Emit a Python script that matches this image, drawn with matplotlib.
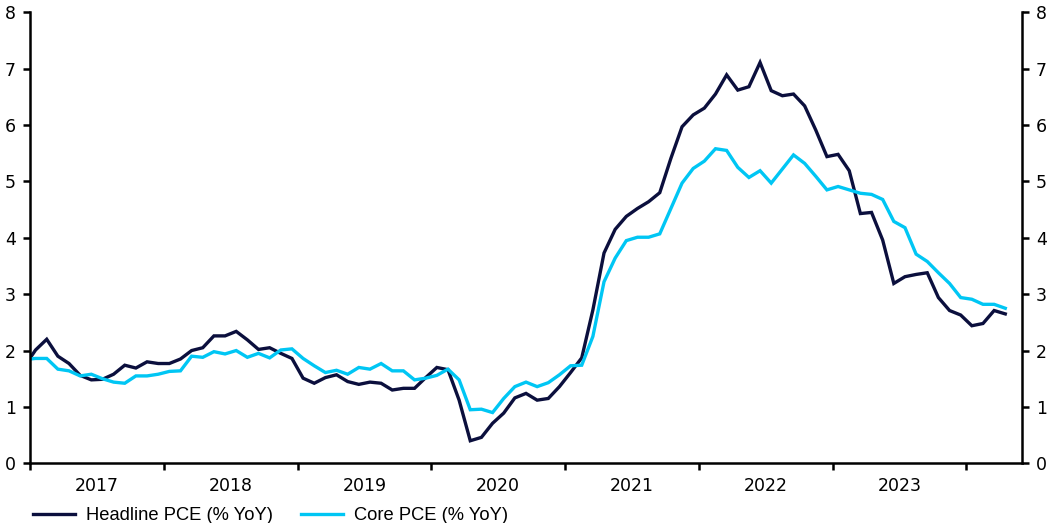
import matplotlib
matplotlib.use("Agg")
import matplotlib.pyplot as plt
import numpy as np

years = ["2017", "2018", "2019", "2020", "2021", "2022", "2023"]
# Monthly values, Dec 2016 .. Apr 2024
headline = [1.72,
    2.01, 2.20, 1.90, 1.77, 1.56, 1.48, 1.49, 1.58, 1.74, 1.69, 1.80, 1.77,
    1.77, 1.85, 2.00, 2.05, 2.26, 2.26, 2.34, 2.19, 2.02, 2.05, 1.95, 1.86,
    1.51, 1.42, 1.52, 1.57, 1.45, 1.40, 1.44, 1.42, 1.30, 1.33, 1.33, 1.52,
    1.70, 1.66, 1.12, 0.40, 0.46, 0.71, 0.89, 1.16, 1.24, 1.12, 1.15, 1.36,
    1.61, 1.87, 2.72, 3.73, 4.15, 4.38, 4.52, 4.64, 4.80, 5.41, 5.97, 6.18,
    6.30, 6.55, 6.89, 6.62, 6.68, 7.11, 6.61, 6.52, 6.55, 6.34, 5.91, 5.44,
    5.48, 5.19, 4.43, 4.45, 3.96, 3.19, 3.31, 3.35, 3.38, 2.94, 2.71, 2.63,
    2.44, 2.48, 2.71, 2.65]
core = [1.84,
    1.86, 1.86, 1.67, 1.64, 1.55, 1.58, 1.50, 1.44, 1.42, 1.55, 1.55, 1.58,
    1.63, 1.64, 1.90, 1.88, 1.98, 1.94, 2.00, 1.88, 1.95, 1.87, 2.01, 2.03,
    1.86, 1.73, 1.61, 1.65, 1.58, 1.70, 1.67, 1.77, 1.64, 1.64, 1.48, 1.51,
    1.56, 1.67, 1.48, 0.95, 0.96, 0.90, 1.15, 1.36, 1.44, 1.36, 1.43, 1.57,
    1.73, 1.74, 2.25, 3.22, 3.64, 3.95, 4.01, 4.01, 4.07, 4.52, 4.97, 5.23,
    5.36, 5.58, 5.55, 5.25, 5.07, 5.19, 4.97, 5.22, 5.47, 5.32, 5.09, 4.85,
    4.91, 4.85, 4.79, 4.77, 4.68, 4.29, 4.18, 3.71, 3.58, 3.38, 3.19, 2.94,
    2.91, 2.82, 2.82, 2.75]

NAVY = "#0b0f3d"
CYAN = "#00c6f4"

# month positions: Jan 2017 centred at 0.5 (axis starts Jan 1 2017 = 0)
x = np.arange(len(headline)) - 1 + 0.5

fig = plt.figure(figsize=(10.52, 5.23), dpi=100)
ax = fig.add_axes([30/1052, 1-463.3/523, (1022-30)/1052, (463.3-12.3)/523])

ax.plot(x, headline, color=NAVY, lw=2.4, label="Headline PCE (% YoY)", solid_joinstyle="miter")
ax.plot(x, core, color=CYAN, lw=2.4, label="Core PCE (% YoY)", solid_joinstyle="miter")

ax.set_xlim(0, 89)
ax.set_ylim(0, 8)
ax.set_yticks(range(0, 9))

ax.set_xticks(np.arange(0, 85, 12))
ax.set_xticklabels([])
ax.set_xticks(np.arange(6, 84, 12), minor=True)
ax.set_xticklabels(years, minor=True)

for s in ["left", "bottom", "right"]:
    ax.spines[s].set_linewidth(1.8)
    ax.spines[s].set_color("black")
ax.spines["top"].set_visible(False)

ax.tick_params(axis="x", which="major", direction="out", length=5, width=1.8)
ax.tick_params(axis="x", which="minor", length=0, pad=10, labelsize=12.5)
ax.tick_params(axis="y", direction="out", length=5, width=1.8, labelsize=12.5,
               right=True, labelright=True, pad=5)
for lab in ax.get_xticklabels(minor=True) + ax.get_yticklabels():
    lab.set_fontfamily("DejaVu Sans")

leg = ax.legend(loc="upper left", bbox_to_anchor=(0.003, -0.097), ncol=2, frameon=False,
                prop={"family": "Liberation Sans", "size": 13.2}, handlelength=2.3,
                handletextpad=0.6, columnspacing=1.5, borderaxespad=0, borderpad=0)

fig.savefig("out.png", dpi=100)
